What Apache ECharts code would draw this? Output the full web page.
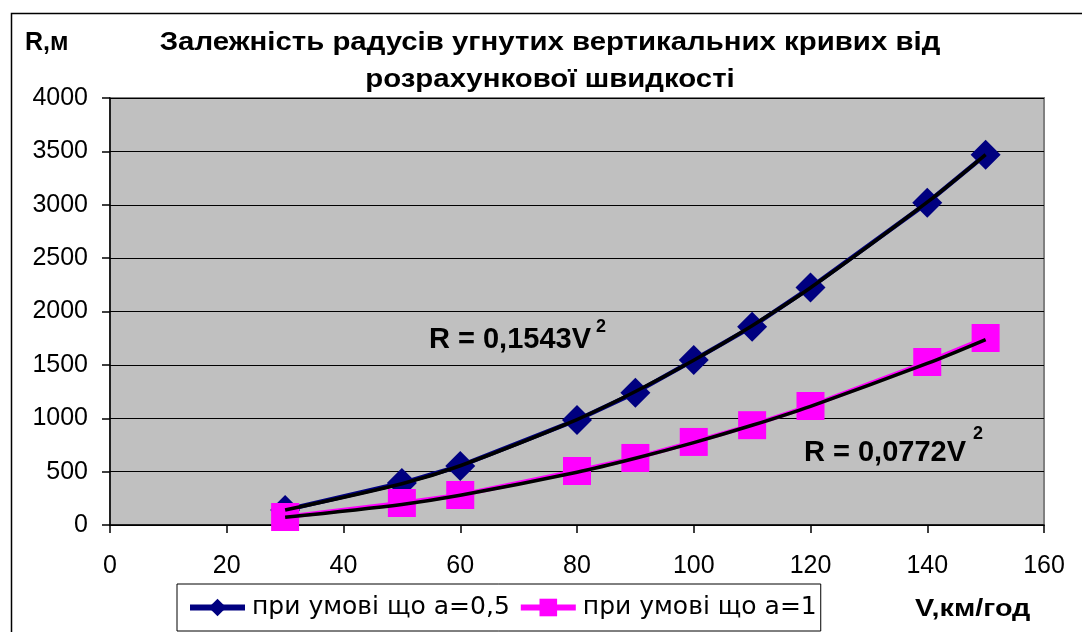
<!DOCTYPE html>
<html>
<head>
<meta charset="utf-8">
<script src="https://cdn.jsdelivr.net/npm/echarts@6/dist/echarts.min.js"></script>
<style>html,body{margin:0;padding:0;background:#fff;}#c{width:1082px;height:632px;}</style>
</head>
<body>
<div id="c"></div>
<script>
// ---- data ----
var speeds = [30, 50, 60, 80, 90, 100, 110, 120, 140, 150];
var radiusA05 = [140, 393, 553, 984, 1240, 1545, 1858, 2225, 3018, 3468];
var radiusA1 = [75, 206, 281, 506, 628, 778, 935, 1115, 1527, 1752];
var trendA05 = [140, 386, 555, 988, 1250, 1543, 1867, 2222, 3024, 3470];
var trendA1 = [72, 193, 278, 494, 625, 772, 934, 1112, 1513, 1737];
var seriesNames = ['при умові що а=0,5', 'при умові що а=1'];
var titleLines = ['Залежність радусів угнутих вертикальних кривих від', 'розрахункової швидкості'];
var yName = 'R,м';
var xName = 'V,км/год';
var eqA05 = 'R = 0,1543V';
var eqA1 = 'R = 0,0772V';
var eqPow = '2';

function pairs(xs, ys) { return xs.map(function (x, i) { return [x, ys[i]]; }); }

var FONT = "'Liberation Sans', Arial, sans-serif";
var LFONT = "'DejaVu Sans', sans-serif";
function txt(s, x, y, font, align, sx, z) {
  return {type: 'text', x: x, y: y, scaleX: sx || 1, z: z || 10, silent: true,
    style: {text: s, fill: '#000', font: font, align: align, verticalAlign: 'middle'}};
}
var chart = echarts.init(document.getElementById('c'), null, {renderer: 'canvas'});
chart.setOption({
  backgroundColor: '#fff',
  animation: false,
  grid: {
    left: 110, right: 38, top: 98, bottom: 107,
    show: true, backgroundColor: '#C0C0C0', borderColor: '#808080', borderWidth: 2,
    outerBoundsMode: 'none'
  },
  xAxis: {
    type: 'value', min: 0, max: 160, interval: 20,
    axisLine: {show: true, onZero: false, lineStyle: {color: '#000', width: 1.5}},
    axisTick: {show: true, length: 8, lineStyle: {color: '#000', width: 1.5}},
    axisLabel: {color: '#000', fontSize: 25, fontFamily: FONT, margin: 29,
      formatter: function (v) { return String(v); }},
    splitLine: {show: false}
  },
  yAxis: {
    type: 'value', min: 0, max: 4000, interval: 500,
    axisLine: {show: true, lineStyle: {color: '#000', width: 1.5}},
    axisTick: {show: true, length: 8, lineStyle: {color: '#000', width: 1.5}},
    axisLabel: {color: '#000', fontSize: 25, fontFamily: FONT, margin: 22,
      formatter: function (v) { return String(v); }},
    splitLine: {show: true, lineStyle: {color: '#000', width: 1}}
  },
  legend: {
    data: seriesNames,
    left: 177, top: 584,
    orient: 'horizontal',
    padding: [11, 4, 11, 10],
    itemWidth: 55, itemHeight: 22, itemGap: 8,
    lineStyle: {width: 6},
    borderColor: '#000', borderWidth: 1, backgroundColor: '#fff',
    textStyle: {color: '#000', fontSize: 25, fontFamily: LFONT, padding: [0, 0, 0, 2]}
  },
  graphic: [
    {type: 'rect', left: 9, top: 11, silent: true, shape: {x: 0, y: 0, width: 1100, height: 700},
     style: {fill: 'none', stroke: '#000', lineWidth: 1.5}, z: -1},
    txt(titleLines[0], 550, 43, 'bold 26px ' + FONT, 'center', 1.13),
    txt(titleLines[1], 550, 80, 'bold 26px ' + FONT, 'center', 1.13),
    txt(yName, 25, 43, 'bold 25px ' + FONT, 'left', 1.0),
    txt(xName, 915, 609, 'bold 24px ' + FONT, 'left', 1.2),
    txt(eqA05, 429, 340, 'bold 29px ' + FONT, 'left', 1.0),
    txt(eqPow, 596, 327, 'bold 18px ' + FONT, 'left', 1.0),
    txt(eqA1, 804, 453, 'bold 29px ' + FONT, 'left', 1.0),
    txt(eqPow, 973, 434, 'bold 18px ' + FONT, 'left', 1.0)
  ],
  series: [
    {
      name: seriesNames[0], type: 'line', data: pairs(speeds, radiusA05),
      symbol: 'diamond', symbolSize: 30, showAllSymbol: true,
      lineStyle: {color: '#000080', width: 4.5},
      itemStyle: {color: '#000080', borderWidth: 0},
      z: 2
    },
    {
      name: seriesNames[1], type: 'line', data: pairs(speeds, radiusA1),
      symbol: 'rect', symbolSize: 28, showAllSymbol: true,
      lineStyle: {color: '#FF00FF', width: 4.5},
      itemStyle: {color: '#FF00FF', borderWidth: 0},
      z: 3
    },
    {
      name: 'trendA05', type: 'line', data: pairs(speeds, trendA05),
      symbol: 'none', smooth: 0.3,
      lineStyle: {color: '#000', width: 3.5}, z: 5
    },
    {
      name: 'trendA1', type: 'line', data: pairs(speeds, trendA1),
      symbol: 'none', smooth: 0.3,
      lineStyle: {color: '#000', width: 3.5}, z: 5
    }
  ]
});
</script>
</body>
</html>
